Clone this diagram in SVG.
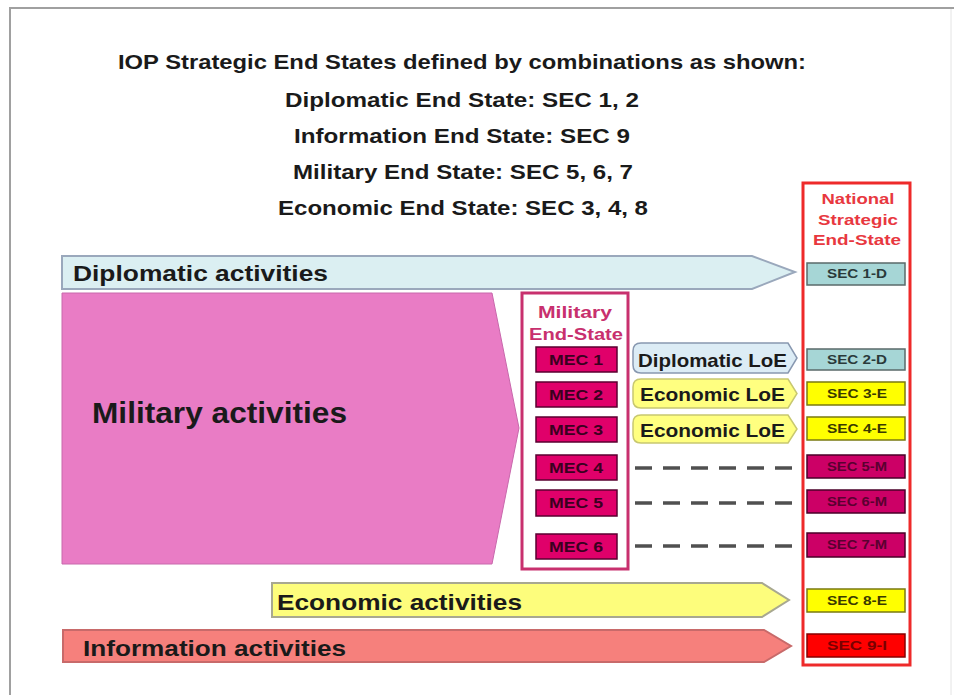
<svg xmlns="http://www.w3.org/2000/svg" width="954" height="695" viewBox="0 0 954 695">
<style>
text{font-family:"Liberation Sans",Arial,sans-serif;font-weight:bold}
.hdr{font-size:21px;fill:#1a1a1a;text-anchor:middle}
.act{font-size:22px;fill:#1a1a1a}
.loe{font-size:19px;fill:#1a1a1a}
.mec{fill:#e0006a;stroke:#5a0030;stroke-width:1.5}
.mect{font-size:14px;fill:#3a0020;text-anchor:middle}
.sec{stroke-width:1.5}
.sect{font-size:12px;text-anchor:middle}
.secD{fill:#a6d6d6;stroke:#5a6a6a}
.secE{fill:#ffff00;stroke:#7a7a10}
.secM{fill:#cc0066;stroke:#4a0028}
.secI{fill:#ff0000;stroke:#880000}
.nat{font-size:14px;fill:#e8383f;text-anchor:middle}
.mil{font-size:16px;fill:#c8306e;text-anchor:middle}
.dash{stroke:#505050;stroke-width:3.5;stroke-dasharray:17 11;fill:none}
</style>
<rect width="954" height="695" fill="#ffffff"/>
<g id="frame">
<line x1="10" y1="8" x2="10" y2="695" stroke="#a0a0a0" stroke-width="2"/>
<line x1="9" y1="8" x2="954" y2="8" stroke="#a0a0a0" stroke-width="2"/>
<line x1="951" y1="9" x2="951" y2="695" stroke="#e4e4e4" stroke-width="1"/>
</g>
<g id="header">
<text class="hdr" x="462" y="69" textLength="688" lengthAdjust="spacingAndGlyphs">IOP Strategic End States defined by combinations as shown:</text>
<text class="hdr" x="462" y="107" textLength="354" lengthAdjust="spacingAndGlyphs">Diplomatic End State:  SEC 1, 2</text>
<text class="hdr" x="462" y="143" textLength="336" lengthAdjust="spacingAndGlyphs">Information End State:  SEC 9</text>
<text class="hdr" x="463" y="179" textLength="340" lengthAdjust="spacingAndGlyphs">Military End State:  SEC 5, 6, 7</text>
<text class="hdr" x="463" y="215" textLength="370" lengthAdjust="spacingAndGlyphs">Economic End State:  SEC 3, 4, 8</text>
</g>
<g id="diplomatic-activities">
<path d="M62,256 H752 L795,272 L752,289 H62 Z" fill="#dbeff2" stroke="#9aa8bc" stroke-width="2"/>
<text class="act" x="73" y="281" textLength="255" lengthAdjust="spacingAndGlyphs">Diplomatic activities</text>
</g>
<g id="military-activities">
<path d="M62,293 H492 L519,428 L492,564 H62 Z" fill="#e97cc5" stroke="#c868ac" stroke-width="1"/>
<text x="92" y="423" font-size="29" fill="#1a1a1a" textLength="255" lengthAdjust="spacingAndGlyphs">Military activities</text>
</g>
<g id="economic-activities">
<path d="M272,583 H762 L789,600 L762,617 H272 Z" fill="#fdfd7c" stroke="#a8a890" stroke-width="2"/>
<text class="act" x="277" y="610" textLength="245" lengthAdjust="spacingAndGlyphs">Economic activities</text>
</g>
<g id="information-activities">
<path d="M63,630 H764 L791,646 L764,662 H63 Z" fill="#f6807c" stroke="#c86a6a" stroke-width="2"/>
<text class="act" x="83" y="656" textLength="263" lengthAdjust="spacingAndGlyphs">Information activities</text>
</g>
<g id="military-end-state">
<rect x="522" y="293" width="106" height="276" fill="#ffffff" stroke="#c8306e" stroke-width="3"/>
<text class="mil" x="575" y="318" textLength="74" lengthAdjust="spacingAndGlyphs">Military</text>
<text class="mil" x="576" y="340" textLength="94" lengthAdjust="spacingAndGlyphs">End-State</text>
</g>
<g id="mec1"><rect class="mec" x="536" y="347" width="81" height="25"/><text class="mect" x="576" y="365" textLength="54" lengthAdjust="spacingAndGlyphs">MEC 1</text></g>
<g id="mec2"><rect class="mec" x="536" y="382" width="81" height="25"/><text class="mect" x="576" y="400" textLength="54" lengthAdjust="spacingAndGlyphs">MEC 2</text></g>
<g id="mec3"><rect class="mec" x="536" y="417" width="81" height="25"/><text class="mect" x="576" y="435" textLength="54" lengthAdjust="spacingAndGlyphs">MEC 3</text></g>
<g id="mec4"><rect class="mec" x="536" y="455" width="81" height="25"/><text class="mect" x="576" y="473" textLength="54" lengthAdjust="spacingAndGlyphs">MEC 4</text></g>
<g id="mec5"><rect class="mec" x="536" y="490" width="81" height="26"/><text class="mect" x="576" y="508" textLength="54" lengthAdjust="spacingAndGlyphs">MEC 5</text></g>
<g id="mec6"><rect class="mec" x="536" y="534" width="81" height="25"/><text class="mect" x="576" y="552" textLength="54" lengthAdjust="spacingAndGlyphs">MEC 6</text></g>
<g id="diplomatic-loe">
<path d="M641,343 H788 L797,358 L788,373 H641 Q633,373 633,365 V351 Q633,343 641,343 Z" fill="#dcecf5" stroke="#8898b0" stroke-width="1.5"/>
<text class="loe" x="638" y="367" textLength="149" lengthAdjust="spacingAndGlyphs">Diplomatic LoE</text>
</g>
<g id="economic-loe-1">
<path d="M641,379 H788 L797,393.5 L788,408 H641 Q633,408 633,400 V387 Q633,379 641,379 Z" fill="#ffff80" stroke="#c8c870" stroke-width="1.5"/>
<text class="loe" x="640" y="401" textLength="145" lengthAdjust="spacingAndGlyphs">Economic LoE</text>
</g>
<g id="economic-loe-2">
<path d="M641,415 H788 L797,429 L788,443 H641 Q633,443 633,435 V423 Q633,415 641,415 Z" fill="#ffff80" stroke="#c8c870" stroke-width="1.5"/>
<text class="loe" x="640" y="437" textLength="145" lengthAdjust="spacingAndGlyphs">Economic LoE</text>
</g>
<g id="connectors">
<line class="dash" x1="635" y1="468" x2="792" y2="468"/>
<line class="dash" x1="635" y1="503" x2="792" y2="503"/>
<line class="dash" x1="635" y1="546" x2="792" y2="546"/>
</g>
<g id="national-end-state">
<rect x="803" y="183" width="107" height="482" fill="#ffffff" stroke="#ee2a2a" stroke-width="3"/>
<text class="nat" x="858" y="204" textLength="73" lengthAdjust="spacingAndGlyphs">National</text>
<text class="nat" x="858" y="225" textLength="80" lengthAdjust="spacingAndGlyphs">Strategic</text>
<text class="nat" x="857" y="245" textLength="88" lengthAdjust="spacingAndGlyphs">End-State</text>
</g>
<g id="sec1"><rect class="sec secD" x="807" y="263" width="98" height="22"/><text class="sect" x="857" y="278" fill="#2a3a3a" textLength="60" lengthAdjust="spacingAndGlyphs">SEC 1-D</text></g>
<g id="sec2"><rect class="sec secD" x="807" y="349" width="98" height="21"/><text class="sect" x="857" y="364" fill="#2a3a3a" textLength="60" lengthAdjust="spacingAndGlyphs">SEC 2-D</text></g>
<g id="sec3"><rect class="sec secE" x="807" y="382" width="98" height="23"/><text class="sect" x="857" y="398" fill="#3a3a00" textLength="60" lengthAdjust="spacingAndGlyphs">SEC 3-E</text></g>
<g id="sec4"><rect class="sec secE" x="807" y="417" width="98" height="23"/><text class="sect" x="857" y="433" fill="#3a3a00" textLength="60" lengthAdjust="spacingAndGlyphs">SEC 4-E</text></g>
<g id="sec5"><rect class="sec secM" x="807" y="455" width="98" height="23"/><text class="sect" x="857" y="471" fill="#5a0030" textLength="60" lengthAdjust="spacingAndGlyphs">SEC 5-M</text></g>
<g id="sec6"><rect class="sec secM" x="807" y="490" width="98" height="23"/><text class="sect" x="857" y="506" fill="#5a0030" textLength="60" lengthAdjust="spacingAndGlyphs">SEC 6-M</text></g>
<g id="sec7"><rect class="sec secM" x="807" y="533" width="98" height="24"/><text class="sect" x="857" y="549" fill="#5a0030" textLength="60" lengthAdjust="spacingAndGlyphs">SEC 7-M</text></g>
<g id="sec8"><rect class="sec secE" x="807" y="589" width="98" height="23"/><text class="sect" x="857" y="605" fill="#3a3a00" textLength="60" lengthAdjust="spacingAndGlyphs">SEC 8-E</text></g>
<g id="sec9"><rect class="sec secI" x="807" y="634" width="98" height="23"/><text class="sect" x="857" y="650" fill="#7a0000" textLength="60" lengthAdjust="spacingAndGlyphs">SEC 9-I</text></g>
</svg>
